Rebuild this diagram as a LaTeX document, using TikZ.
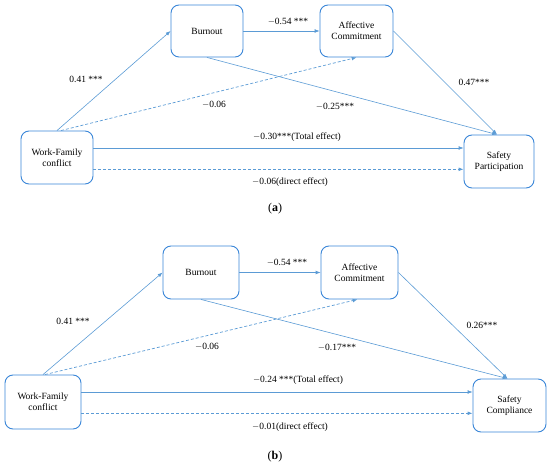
\documentclass[tikz,border=0pt]{standalone}
\usepackage{fontspec}
\setmainfont{Liberation Serif}
\usepackage{tikz}
\usetikzlibrary{arrows.meta,positioning,calc}
\definecolor{boxblue}{HTML}{3A86D8}
\definecolor{pathblue}{HTML}{5B9BD5}
\tikzset{
  >={Latex[length=1.7mm,width=1.3mm]},
  % boxes
  var/.style={draw=boxblue,line width=0.9pt,rounded corners=8pt,fill=white,
              align=center,inner sep=1pt,font=\fontsize{9.5}{11}\selectfont},
  % paths
  sig/.style={->,draw=pathblue,line width=0.6pt},
  nsig/.style={->,draw=pathblue,line width=0.7pt,dash pattern=on 3pt off 2pt},
  coef/.style={font=\fontsize{9.5}{11}\selectfont,inner sep=1pt},
  panel/.style={font=\fontsize{12}{14}\selectfont},
}
\begin{document}
\begin{tikzpicture}[x=1pt,y=-1pt]
  \useasboundingbox (0,0) rectangle (550,466);
  % (a) safety participation
  \node[var,minimum width=72pt,minimum height=52pt] (bo1) at (207,31) {Burnout};
  \node[var,minimum width=73pt,minimum height=52pt] (ac1) at (356.5,31) {Affective\\Commitment};
  \node[var,minimum width=72pt,minimum height=53pt] (wf1) at (57,157.5) {Work-Family\\conflict};
  \node[var,minimum width=70pt,minimum height=53pt] (sp1) at (499,161.5) {Safety\\Participation};
  \draw[sig] (wf1.north) -- (bo1.west);
  \draw[sig] (bo1.east) -- (ac1.west);
  \draw[nsig] ([xshift=4pt]wf1.north) -- (ac1.south);
  \draw[sig] (bo1.south) -- ([xshift=-2pt]sp1.north);
  \draw[sig] (ac1.east) -- ([xshift=-2pt]sp1.north);
  \draw[sig] (wf1.east |- 0,148) -- (sp1.west |- 0,148);
  \draw[nsig] (wf1.east |- 0,169.3) -- (sp1.west |- 0,169.3);
  \node[coef] (c1a) at (86,79) {0.41 ***};
  \node[coef] (c2a) at (288,22) {$-$0.54 ***};
  \node[coef] (c3a) at (214,105) {$-$0.06};
  \node[coef] (c4a) at (335,107) {$-$0.25***};
  \node[coef] (c5a) at (474,82) {0.47***};
  \node[coef] (c6a) at (297,137) {$-$0.30***(Total effect)};
  \node[coef] (c7a) at (290,182) {$-$0.06(direct effect)};
  \node[panel] (pa) at (275,209) {({\bfseries a})};
  % (b) safety compliance
  \node[var,minimum width=76pt,minimum height=53pt] (bo2) at (201,272.5) {Burnout};
  \node[var,minimum width=77pt,minimum height=53pt] (ac2) at (359.5,272.5) {Affective\\Commitment};
  \node[var,minimum width=76pt,minimum height=54pt] (wf2) at (43,402) {Work-Family\\conflict};
  \node[var,minimum width=73pt,minimum height=53pt] (sc2) at (509.5,405.5) {Safety\\Compliance};
  \draw[sig] (wf2.north) -- (bo2.west);
  \draw[sig] (bo2.east) -- (ac2.west);
  \draw[nsig] ([xshift=2pt]wf2.north) -- ([xshift=-2pt]ac2.south);
  \draw[sig] (bo2.south) -- ([xshift=-2pt]sc2.north);
  \draw[sig] (ac2.east) -- ([xshift=-2pt]sc2.north);
  \draw[sig] (wf2.east |- 0,392) -- (sc2.west |- 0,392);
  \draw[nsig] (wf2.east |- 0,413.3) -- (sc2.west |- 0,413.3);
  \node[coef] (c1b) at (73,321) {0.41 ***};
  \node[coef] (c2b) at (287,263) {$-$0.54 ***};
  \node[coef] (c3b) at (207,347) {$-$0.06};
  \node[coef] (c4b) at (337,348) {$-$0.17***};
  \node[coef] (c5b) at (482,325) {0.26***};
  \node[coef] (c6b) at (298,380) {$-$0.24 ***(Total effect)};
  \node[coef] (c7b) at (290,427) {$-$0.01(direct effect)};
  \node[panel] (pb) at (275,457) {({\bfseries b})};
\end{tikzpicture}
\end{document}
